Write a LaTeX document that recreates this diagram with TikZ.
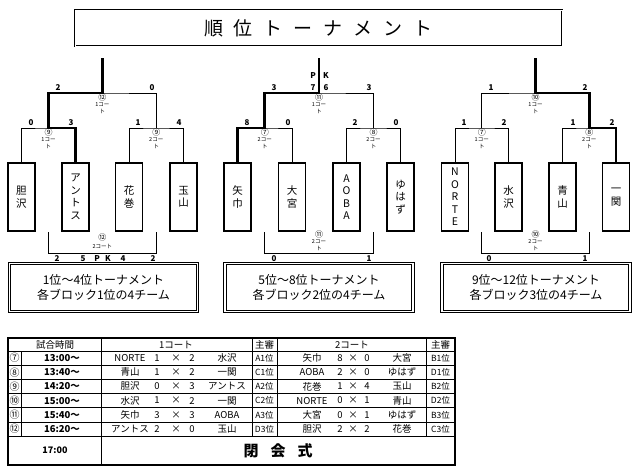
\documentclass[tikz,border=0pt]{standalone}
\usepackage{fontspec}
\setmainfont{Noto Sans CJK JP}
\newcommand{\ct}[1]{#1コー\\ト}
\newcommand{\sz}[1]{\fontsize{#1}{#1}\selectfont}
\tikzset{
  team/.style={draw, line width=1.1pt, minimum width=27pt, minimum height=68pt,
    inner sep=0pt, align=center, font=\fontsize{10.5}{12.5}\selectfont},
  line/.style={line width=0.9pt},
  win/.style={line width=2.6pt},
  score/.style={font=\sz{8}\bfseries, inner sep=0pt},
  num/.style={font=\sz{8}, inner sep=0pt},
  court/.style={font=\fontsize{5.5}{7.5}\selectfont, inner sep=0pt, align=center, anchor=north},
  block/.style={draw, double, line width=1pt, double distance=1.2pt, minimum width=188pt,
    minimum height=48pt, align=center, font=\fontsize{12}{15}\selectfont},
  cell/.style={font=\sz{9.5}, inner sep=0pt}
}
\begin{document}
\begin{tikzpicture}[x=1pt,y=-1pt]
  \useasboundingbox (0,0) rectangle (640,469);
  \node (0) [draw, double, line width=0.7pt, double distance=1pt, minimum width=487pt,
    minimum height=36pt, font=\sz{19}] at (318.5,28)
    {順\hspace{11pt}位\hspace{11pt}ト\hspace{11pt}ー\hspace{11pt}ナ\hspace{11pt}メ\hspace{11pt}ン\hspace{11pt}ト};
  \node (1) [team] at (21.5,197) {胆\\沢};
  \node (2) [team] at (75.5,197) {ア\\ン\\ト\\ス};
  \node (3) [team] at (129,197) {花\\巻};
  \node (4) [team] at (183.5,197) {玉\\山};
  \node (5) [team] at (237.5,197) {矢\\巾};
  \node (6) [team] at (292,197) {大\\宮};
  \node (7) [team] at (346.5,197) {A\\O\\B\\A};
  \node (8) [team] at (400.5,197) {ゆ\\は\\ず};
  \node (9) [team] at (455,197) {N\\O\\R\\T\\E};
  \node (10) [team] at (508.5,197) {水\\沢};
  \node (11) [team] at (562.5,197) {青\\山};
  \node (12) [team] at (616,197) {一\\関};
  \node (13) [block] at (103.5,287.5) {1位～4位トーナメント\\各ブロック1位の4チーム};
  \node (14) [block] at (319,287.5) {5位～8位トーナメント\\各ブロック2位の4チーム};
  \node (15) [block] at (536,287.5) {9位～12位トーナメント\\各ブロック3位の4チーム};
  \coordinate (s1) at (48.5,128);
  \coordinate (s2) at (156.25,128);
  \coordinate (f1) at (102.4,93);
  \coordinate (t1) at (102.4,58);
  \coordinate (s3) at (264.75,128);
  \coordinate (s4) at (373.5,128);
  \coordinate (f2) at (319,93);
  \coordinate (t2) at (319,58);
  \coordinate (s5) at (481.75,128);
  \coordinate (s6) at (589.25,128);
  \coordinate (f3) at (535.5,93);
  \coordinate (t3) at (535.5,58);
  \draw [line] (1.north) |- (s1) -| (2.north);
  \draw [line] (3.north) |- (s2) -| (4.north);
  \draw [line] (s1) |- (f1) -| (s2);
  \draw [line] (5.north) |- (s3) -| (6.north);
  \draw [line] (7.north) |- (s4) -| (8.north);
  \draw [line] (s3) |- (f2) -| (s4);
  \draw [line] (9.north) |- (s5) -| (10.north);
  \draw [line] (11.north) |- (s6) -| (12.north);
  \draw [line] (s5) |- (f3) -| (s6);
  \draw [win] (2.north) |- (s1) |- (f1) -- (t1);
  \draw [win] (5.north) |- (s3) |- (f2) -- (t2);
  \draw [win] (12.north) |- (s6) |- (f3) -- (t3);
  \draw [line] (s1 |- 0,232) -- ++(0,21) -| (s2 |- 0,232);
  \draw [line] (s3 |- 0,232) -- ++(0,21) -| (s4 |- 0,232);
  \draw [line] (s5 |- 0,232) -- ++(0,21) -| (s6 |- 0,232);
  \node [num] at (102.4,97) {⑫};
  \node [court] at (102.4,102) {\ct{1}};
  \node [num] at (48.5,132) {⑨};
  \node [court] at (48.5,137) {\ct{1}};
  \node [num] at (156.25,132) {⑨};
  \node [court] at (156.25,137) {\ct{2}};
  \node [num] at (102.4,237) {⑫};
  \node [court] at (102.4,244) {2コート};
  \node [num] at (319,97) {⑪};
  \node [court] at (319,102) {\ct{1}};
  \node [num] at (264.75,132) {⑦};
  \node [court] at (264.75,137) {\ct{2}};
  \node [num] at (373.5,132) {⑧};
  \node [court] at (373.5,137) {\ct{2}};
  \node [num] at (319,234) {⑪};
  \node [court] at (319,239) {\ct{2}};
  \node [num] at (535.5,97) {⑩};
  \node [court] at (535.5,102) {\ct{1}};
  \node [num] at (481.75,132) {⑦};
  \node [court] at (481.75,137) {\ct{1}};
  \node [num] at (589.25,132) {⑧};
  \node [court] at (589.25,137) {\ct{2}};
  \node [num] at (535.5,234) {⑩};
  \node [court] at (535.5,239) {\ct{2}};
  \node [score] at (58,88) {2};
  \node [score] at (152,88) {0};
  \node [score] at (31,123) {0};
  \node [score] at (71,123) {3};
  \node [score] at (138,123) {1};
  \node [score] at (179,123) {4};
  \node [score] at (57,259) {2};
  \node [score] at (83,259) {5};
  \node [score] at (97,259) {P};
  \node [score] at (108,259) {K};
  \node [score] at (123,259) {4};
  \node [score] at (153,259) {2};
  \node [score] at (274,88) {3};
  \node [score] at (313,88) {7};
  \node [score] at (326,88) {6};
  \node [score] at (369,88) {3};
  \node [score] at (313,76) {P};
  \node [score] at (326,76) {K};
  \node [score] at (247,123) {8};
  \node [score] at (288,123) {0};
  \node [score] at (355,123) {2};
  \node [score] at (396,123) {0};
  \node [score] at (274,259) {0};
  \node [score] at (369,259) {1};
  \node [score] at (491,88) {1};
  \node [score] at (585,88) {2};
  \node [score] at (464,123) {1};
  \node [score] at (504,123) {2};
  \node [score] at (573,123) {1};
  \node [score] at (612,123) {2};
  \node [score] at (489,259) {0};
  \node [score] at (585,259) {1};
  \draw [line width=1.5pt] (8,338) rectangle (455,465);
  \draw [line width=0.6pt] (8,351) -- (455,351);
  \foreach \r in {365.2,379.3,393.5,407.7,421.8}
    \draw [line width=0.6pt] (8,\r) -- (455,\r);
  \draw [line width=1pt] (8,436) -- (455,436);
  \draw [line width=1pt] (101,338) -- (101,465);
  \draw [line width=1pt] (252,338) -- (252,436);
  \draw [line width=0.6pt] (277,338) -- (277,436);
  \draw [line width=1pt] (426,338) -- (426,436);
  \draw [line width=0.6pt] (21,351) -- (21,436);
  \node [cell] at (55,344.5) {試合時間};
  \node [cell] at (176,344.5) {1コート};
  \node [cell] at (264.5,344.5) {主審};
  \node [cell] at (352,344.5) {2コート};
  \node [cell] at (440.5,344.5) {主審};
  \foreach \n/\tm/\ta/\sa/\sb/\tb/\ra/\tc/\sc/\sd/\td/\rb [count=\i] in
    {⑦/13:00～/NORTE/1/2/水沢/A1位/矢巾/8/0/大宮/B1位,
     ⑧/13:40～/青山/1/2/一関/C1位/AOBA/2/0/ゆはず/D1位,
     ⑨/14:20～/胆沢/0/3/アントス/A2位/花巻/1/4/玉山/B2位,
     ⑩/15:00～/水沢/1/2/一関/C2位/NORTE/0/1/青山/D2位,
     ⑪/15:40～/矢巾/3/3/AOBA/A3位/大宮/0/1/ゆはず/B3位,
     ⑫/16:20～/アントス/2/0/玉山/D3位/胆沢/2/2/花巻/C3位} {
    \pgfmathsetmacro{\yy}{351+14.17*(\i-0.5)}
    \node [cell, font=\sz{10}] at (14.5,\yy) {\n};
    \node [cell, font=\sz{9.5}\bfseries] at (62,\yy) {\tm};
    \node [cell] at (130,\yy) {\ta};
    \node [cell] at (157,\yy) {\sa};
    \node [cell] at (176,\yy) {×};
    \node [cell] at (192,\yy) {\sb};
    \node [cell] at (227,\yy) {\tb};
    \node [cell, font=\sz{8.5}] at (264.5,\yy) {\ra};
    \node [cell] at (312,\yy) {\tc};
    \node [cell] at (340,\yy) {\sc};
    \node [cell] at (353,\yy) {×};
    \node [cell] at (367,\yy) {\sd};
    \node [cell] at (402,\yy) {\td};
    \node [cell, font=\sz{8.5}] at (440.5,\yy) {\rb};
  }
  \node [cell, font=\sz{9}\bfseries] at (55,450.5) {17:00};
  \node [cell, font=\sz{15}\bfseries] at (278,450.5) {閉\hspace{12pt}会\hspace{12pt}式};
\end{tikzpicture}
\end{document}
